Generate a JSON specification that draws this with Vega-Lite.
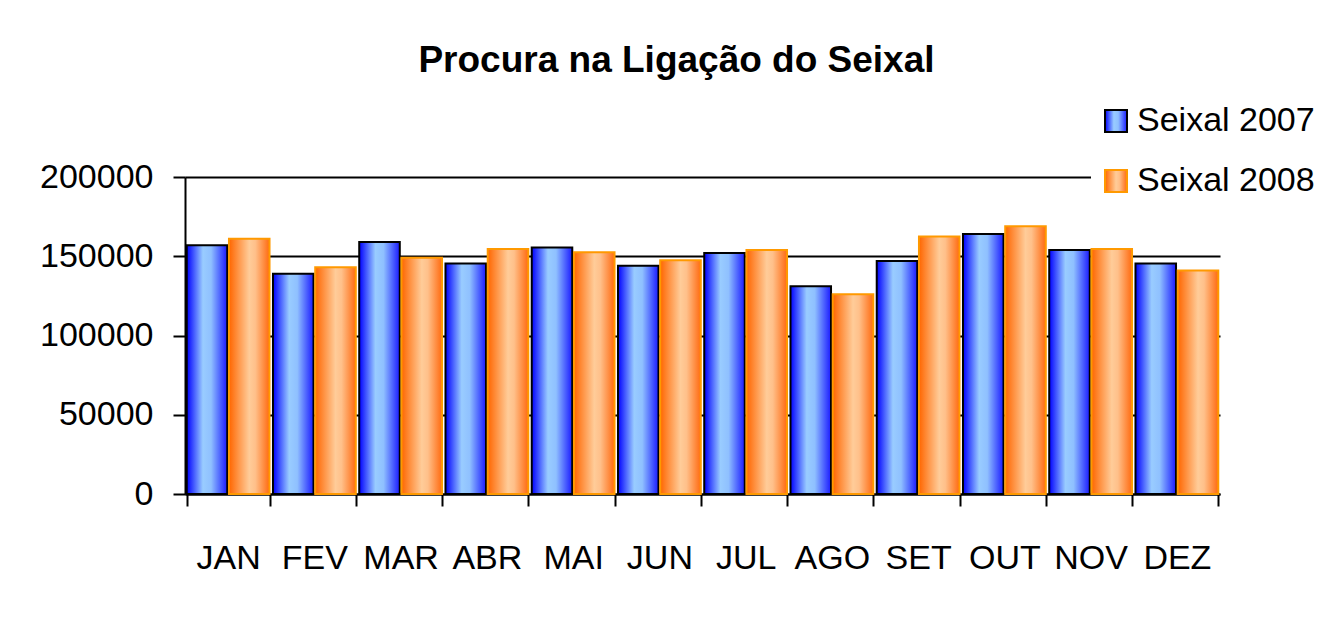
{
  "$schema": "https://vega.github.io/schema/vega-lite/v6.json",
  "width": 1035,
  "height": 317,
  "autosize": {"type": "none"},
  "padding": {"left": 185, "top": 177, "right": 105, "bottom": 130},
  "background": "white",
  "title": {
    "text": "Procura na Ligação do Seixal",
    "font": "Liberation Sans",
    "fontSize": 37,
    "fontWeight": "bold",
    "color": "black",
    "anchor": "middle",
    "offset": 16,
    "dx": -26
  },
  "data": {
    "values": [
      {"mes": "JAN", "serie": "Seixal 2007", "valor": 157000},
      {"mes": "JAN", "serie": "Seixal 2008", "valor": 161000},
      {"mes": "FEV", "serie": "Seixal 2007", "valor": 139000},
      {"mes": "FEV", "serie": "Seixal 2008", "valor": 143000},
      {"mes": "MAR", "serie": "Seixal 2007", "valor": 159000},
      {"mes": "MAR", "serie": "Seixal 2008", "valor": 149000},
      {"mes": "ABR", "serie": "Seixal 2007", "valor": 145500},
      {"mes": "ABR", "serie": "Seixal 2008", "valor": 154500},
      {"mes": "MAI", "serie": "Seixal 2007", "valor": 155500},
      {"mes": "MAI", "serie": "Seixal 2008", "valor": 152500},
      {"mes": "JUN", "serie": "Seixal 2007", "valor": 144000},
      {"mes": "JUN", "serie": "Seixal 2008", "valor": 147500},
      {"mes": "JUL", "serie": "Seixal 2007", "valor": 152000},
      {"mes": "JUL", "serie": "Seixal 2008", "valor": 154000},
      {"mes": "AGO", "serie": "Seixal 2007", "valor": 131000},
      {"mes": "AGO", "serie": "Seixal 2008", "valor": 126000},
      {"mes": "SET", "serie": "Seixal 2007", "valor": 147000},
      {"mes": "SET", "serie": "Seixal 2008", "valor": 162500},
      {"mes": "OUT", "serie": "Seixal 2007", "valor": 164000},
      {"mes": "OUT", "serie": "Seixal 2008", "valor": 169000},
      {"mes": "NOV", "serie": "Seixal 2007", "valor": 154000},
      {"mes": "NOV", "serie": "Seixal 2008", "valor": 154500},
      {"mes": "DEZ", "serie": "Seixal 2007", "valor": 145500},
      {"mes": "DEZ", "serie": "Seixal 2008", "valor": 141000}
    ]
  },
  "encoding": {
    "x": {
      "field": "mes",
      "type": "nominal",
      "sort": null,
      "scale": {"paddingInner": 0.04, "paddingOuter": 0.02},
      "axis": {
        "title": null,
        "labelAngle": 0,
        "labelFont": "Liberation Sans",
        "labelFontSize": 34,
        "labelColor": "black",
        "labelPadding": 35,
        "tickBand": "extent",
        "tickSize": 12,
        "tickColor": "black",
        "tickWidth": 2,
        "domainColor": "black",
        "domainWidth": 2,
        "grid": false
      }
    },
    "xOffset": {"field": "serie", "type": "nominal", "scale": {"domain": ["Seixal 2007", "Seixal 2008"], "paddingInner": 0.04, "paddingOuter": 0}},
    "y": {
      "field": "valor",
      "type": "quantitative",
      "scale": {"domain": [0, 200000], "nice": false},
      "axis": {
        "title": null,
        "values": [0, 50000, 100000, 150000, 200000],
        "format": "d",
        "labelFont": "Liberation Sans",
        "labelFontSize": 34,
        "labelColor": "black",
        "labelPadding": 20,
        "tickSize": 12,
        "tickColor": "black",
        "tickWidth": 2,
        "domainColor": "black",
        "domainWidth": 2,
        "grid": true,
        "gridColor": "black",
        "gridWidth": 2
      }
    }
  },
  "layer": [
    {
      "mark": {"type": "bar", "strokeWidth": 2},
      "encoding": {
        "fill": {
          "condition": {
            "test": "datum.serie === 'Seixal 2007'",
            "value": {"gradient": "linear", "x1": 0, "y1": 0, "x2": 1, "y2": 0, "stops": [
              {"offset": 0, "color": "#0000ff"},
              {"offset": 0.4, "color": "#99ccff"},
              {"offset": 0.6, "color": "#8fc0ff"},
              {"offset": 1, "color": "#1a1aff"}
            ]}
          },
          "value": {"gradient": "linear", "x1": 0, "y1": 0, "x2": 1, "y2": 0, "stops": [
            {"offset": 0, "color": "#ff6600"},
            {"offset": 0.5, "color": "#ffcc99"},
            {"offset": 0.65, "color": "#ffc08a"},
            {"offset": 1, "color": "#ff6a10"}
          ]}
        },
        "stroke": {
          "condition": {"test": "datum.serie === 'Seixal 2007'", "value": "#000000"},
          "value": "#ff9900"
        }
      }
    },
    {
      "transform": [{"filter": "datum.serie === 'Seixal 2007'"}],
      "mark": {
        "type": "point",
        "opacity": 0,
        "filled": true,
        "strokeWidth": 2,
        "stroke": "#000000",
        "fill": {"gradient": "linear", "x1": 0, "y1": 0, "x2": 1, "y2": 0, "stops": [
          {"offset": 0, "color": "#0000ff"},
          {"offset": 0.4, "color": "#99ccff"},
          {"offset": 0.6, "color": "#8fc0ff"},
          {"offset": 1, "color": "#1a1aff"}
        ]}
      },
      "encoding": {
        "shape": {
          "field": "serie",
          "type": "nominal",
          "scale": {"range": ["square"]},
          "legend": {
            "title": null,
            "orient": "none",
            "legendX": 906,
            "legendY": -81,
            "padding": 8,
            "fillColor": "white",
            "symbolType": "square",
            "symbolSize": 484,
            "symbolStrokeWidth": 2,
            "symbolOpacity": 1,
            "labelFont": "Liberation Sans",
            "labelFontSize": 34,
            "labelColor": "black",
            "labelOffset": 4,
            "labelLimit": 400
          }
        }
      }
    },
    {
      "transform": [{"filter": "datum.serie === 'Seixal 2008'"}],
      "mark": {
        "type": "point",
        "opacity": 0,
        "filled": true,
        "strokeWidth": 2,
        "stroke": "#ff9900",
        "fill": {"gradient": "linear", "x1": 0, "y1": 0, "x2": 1, "y2": 0, "stops": [
          {"offset": 0, "color": "#ff6600"},
          {"offset": 0.5, "color": "#ffcc99"},
          {"offset": 0.65, "color": "#ffc08a"},
          {"offset": 1, "color": "#ff6a10"}
        ]}
      },
      "encoding": {
        "shape": {
          "field": "serie",
          "type": "nominal",
          "scale": {"range": ["square"]},
          "legend": {
            "title": null,
            "orient": "none",
            "legendX": 906,
            "legendY": -21,
            "padding": 8,
            "fillColor": "white",
            "symbolType": "square",
            "symbolSize": 484,
            "symbolStrokeWidth": 2,
            "symbolOpacity": 1,
            "labelFont": "Liberation Sans",
            "labelFontSize": 34,
            "labelColor": "black",
            "labelOffset": 4,
            "labelLimit": 400
          }
        }
      }
    }
  ],
  "resolve": {"scale": {"shape": "independent"}, "legend": {"shape": "independent"}},
  "config": {"view": {"stroke": null}}
}
